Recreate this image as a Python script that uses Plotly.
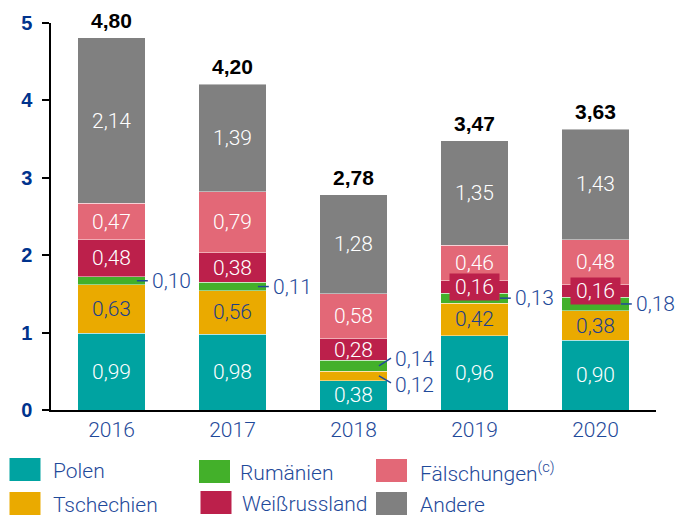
import plotly.graph_objects as go

# ---------------- data ----------------
years = ["2016", "2017", "2018", "2019", "2020"]
polen = [0.99, 0.98, 0.38, 0.96, 0.90]
tschechien = [0.63, 0.56, 0.12, 0.42, 0.38]
rumaenien = [0.10, 0.11, 0.14, 0.13, 0.18]
weissrussland = [0.48, 0.38, 0.28, 0.16, 0.16]
faelschungen = [0.47, 0.79, 0.58, 0.46, 0.58]          # drawn heights
faelschungen_label = [0.47, 0.79, 0.58, 0.46, 0.48]    # printed labels
andere = [2.14, 1.39, 1.28, 1.35, 1.43]
totals = [4.80, 4.20, 2.78, 3.47, 3.63]
y_ticks = [0, 1, 2, 3, 4, 5]

# ---------------- styles ----------------
C_TEAL, C_ORANGE, C_GREEN = "#00A3A1", "#EAAA00", "#43B02A"
C_CRIMSON, C_PINK, C_GRAY = "#BC204B", "#E36877", "#808080"
BLUE = "#1F4A9A"
DARK_BLUE = "#00338D"
LIGHT = dict(family="Roboto", weight=300)

series = [
    ("Polen", polen, polen, C_TEAL, "white"),
    ("Tschechien", tschechien, tschechien, C_ORANGE, "#1E3F8A"),
    ("Rumänien", rumaenien, rumaenien, C_GREEN, "white"),
    ("Weißrussland", weissrussland, weissrussland, C_CRIMSON, "white"),
    ("Fälschungen", faelschungen, faelschungen_label, C_PINK, "white"),
    ("Andere", andere, andere, C_GRAY, "white"),
]


def fmt(v):
    return f"{v:.2f}".replace(".", ",")


# plot area geometry in pixels (for legend placement)
W, H = 676, 516
ML, MR, MT, MB = 51, 20, 23, 106
PW, PH = W - ML - MR, H - MT - MB


def px(xp):
    return (xp - ML) / PW


def py(yp):
    return (H - MB - yp) / PH


x = list(range(len(years)))
fig = go.Figure()
for name, vals, _, color, _ in series:
    fig.add_trace(go.Bar(
        x=x, y=vals, name=name,
        marker=dict(color=color, line=dict(color="rgba(255,255,255,0.45)", width=1)),
        showlegend=False, hoverinfo="skip",
    ))

annotations = []
shapes = []
bottoms = [0.0] * len(years)
label_font = dict(size=21, **LIGHT)

for name, vals, labs, color, tcolor in series:
    for i, v in enumerate(vals):
        b = bottoms[i]
        mid = b + v / 2
        txt = fmt(labs[i])
        if name == "Rumänien" or (name == "Tschechien" and v < 0.2):
            # outside label with leader line
            if years[i] == "2018":
                dy = 0.10 if name == "Rumänien" else -0.09
                shapes.append(dict(type="line", xref="x", yref="y",
                                   x0=i + 0.21, x1=i + 0.31, y0=mid, y1=mid + dy,
                                   line=dict(color=BLUE, width=1.5)))
                annotations.append(dict(x=i + 0.33, y=mid + dy - 0.01 if dy > 0 else mid + dy - 0.03,
                                        text=txt, showarrow=False,
                                        xanchor="left", yanchor="middle",
                                        font=dict(color=BLUE, **label_font)))
            else:
                shapes.append(dict(type="line", xref="x", yref="y",
                                   x0=i + 0.21, x1=i + 0.30, y0=mid, y1=mid,
                                   line=dict(color=BLUE, width=1.5)))
                annotations.append(dict(x=i + 0.32, y=mid, text=txt, showarrow=False,
                                        xanchor="left", yanchor="middle",
                                        font=dict(color=BLUE, **label_font)))
        elif name == "Weißrussland" and v < 0.2:
            annotations.append(dict(x=i, y=mid, text=txt, showarrow=False,
                                    xanchor="center", yanchor="middle",
                                    bgcolor=C_CRIMSON, width=49, height=26, borderpad=0,
                                    font=dict(color="white", **label_font)))
        else:
            annotations.append(dict(x=i, y=mid, text=txt, showarrow=False,
                                    xanchor="center", yanchor="middle",
                                    font=dict(color=tcolor, **label_font)))
        bottoms[i] += v

for i, t in enumerate(totals):
    annotations.append(dict(x=i, y=bottoms[i], text=f"<b>{fmt(t)}</b>", showarrow=False,
                            xanchor="center", yanchor="bottom", yshift=4,
                            font=dict(family="Liberation Sans", size=21, color="black")))

# ---------------- custom legend ----------------
legend_items = [
    ("Polen", C_TEAL, 9.5, 458, 51),
    ("Tschechien", C_ORANGE, 9.5, 492, 51),
    ("Rumänien", C_GREEN, 199, 460, 238),
    ("Weißrussland", C_CRIMSON, 200.5, 491, 239.5),
    ("Fälschungen<sup>(c)</sup>", C_PINK, 376, 459, 418),
    ("Andere", C_GRAY, 376, 492, 418),
]
for text, color, sx, sy, tx in legend_items:
    shapes.append(dict(type="rect", xref="paper", yref="paper",
                       x0=px(sx), x1=px(sx + 31), y0=py(sy), y1=py(sy + 23),
                       fillcolor=color, line=dict(width=0)))
    annotations.append(dict(xref="paper", yref="paper", x=px(tx), y=py(sy + 13),
                            text=text, showarrow=False, xanchor="left", yanchor="middle",
                            font=dict(color=BLUE, size=21, **LIGHT)))

fig.update_layout(
    width=W, height=H,
    margin=dict(l=ML, r=MR, t=MT, b=MB, pad=0),
    barmode="stack", bargap=0.445,
    plot_bgcolor="white", paper_bgcolor="white",
    annotations=annotations, shapes=shapes,
    showlegend=False,
    xaxis=dict(range=[-0.5, 4.5], tickvals=x, ticktext=years,
               showline=True, linecolor="black", linewidth=2,
               ticks="", showgrid=False, zeroline=False,
               tickfont=dict(color=BLUE, size=21, **LIGHT)),
    yaxis=dict(range=[0, 5], tickvals=y_ticks, ticktext=[str(v) for v in y_ticks],
               showline=True, linecolor="black", linewidth=1.5,
               ticks="outside", ticklen=7, tickwidth=1.5, tickcolor="black",
               showgrid=False, zeroline=False, ticklabelstandoff=6,
               tickfont=dict(family="Liberation Sans", size=20, color=DARK_BLUE, weight="bold")),
)

fig.write_html("out.html", config={"displayModeBar": False},
               post_script="document.body.style.margin='0';document.body.style.overflow='hidden';")
